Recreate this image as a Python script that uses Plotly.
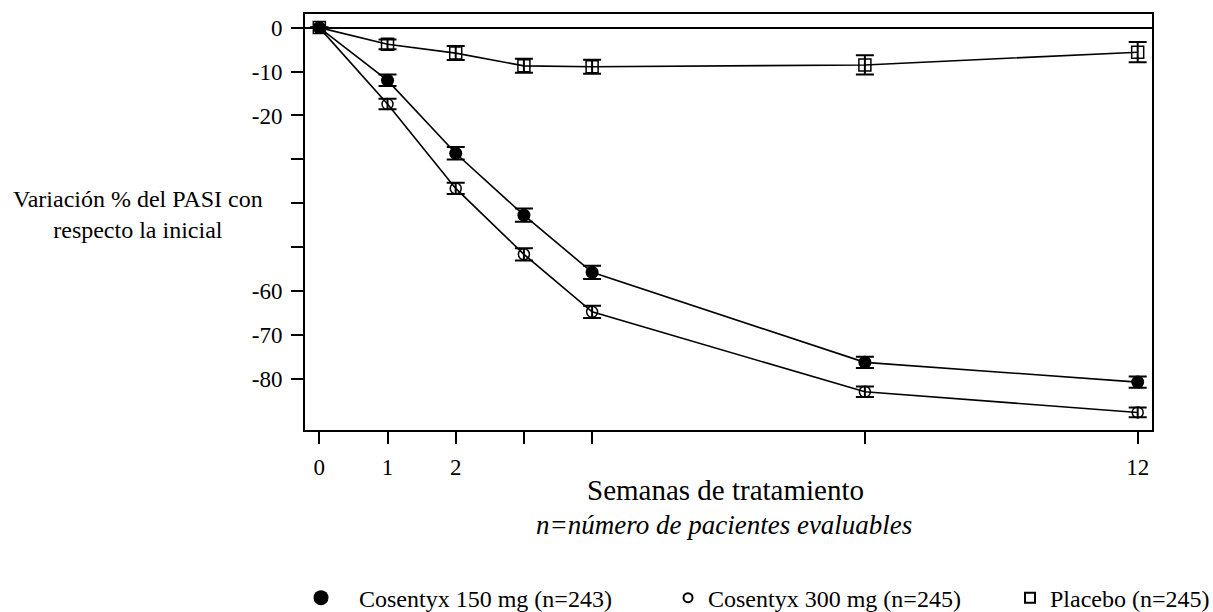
import plotly.graph_objects as go

# ---- data ----
weeks = [0, 1, 2, 3, 4, 8, 12]

cos150 = [0, -12.0, -28.6, -42.7, -55.7, -76.2, -80.7]
cos150_err = [0, 1.3, 1.4, 1.5, 1.5, 1.3, 1.3]

cos300 = [0, -17.4, -36.6, -51.6, -64.7, -82.9, -87.6]
cos300_err = [0, 1.2, 1.3, 1.4, 1.4, 1.2, 1.1]

placebo = [0, -3.8, -5.8, -8.7, -8.9, -8.5, -5.6]
placebo_err = [0, 1.1, 1.6, 1.6, 1.6, 2.2, 2.3]

series_names = ["Cosentyx 150 mg (n=243)", "Cosentyx 300 mg (n=245)", "Placebo (n=245)"]

x_tickvals = [0, 1, 2, 3, 4, 8, 12]
x_ticktext = ["0", "1", "2", "", "", "", "12"]
y_tickvals = [0, -10, -20, -30, -40, -50, -60, -70, -80]
y_ticktext = ["0", "-10", "-20", "", "", "", "-60", "-70", "-80"]

y_title = "Variación % del PASI con<br>respecto la inicial"
x_title = "Semanas de tratamiento"
x_subtitle = "<i>n=número de pacientes evaluables</i>"

FONT = "Liberation Serif"

fig = go.Figure()

def err(vals):
    return dict(type="data", array=vals, visible=True, color="black", thickness=2, width=9)

fig.add_trace(go.Scatter(
    x=weeks, y=placebo, name=series_names[2], mode="lines+markers", showlegend=False,
    line=dict(color="black", width=1.6),
    marker=dict(symbol="square-open", size=12, color="black", line=dict(width=1.5, color="black")),
    error_y=err(placebo_err),
))
fig.add_trace(go.Scatter(
    x=weeks, y=cos300, name=series_names[1], mode="lines+markers", showlegend=False,
    line=dict(color="black", width=1.6),
    marker=dict(symbol="circle-open", size=11, color="black", line=dict(width=1.5, color="black")),
    error_y=err(cos300_err),
))
fig.add_trace(go.Scatter(
    x=weeks, y=cos150, name=series_names[0], mode="lines+markers", showlegend=False,
    line=dict(color="black", width=1.6),
    marker=dict(symbol="circle", size=13, color="black"),
    error_y=err(cos150_err),
))

# legend entries (markers only, as in the reference legend)
NB = "\u00a0\u00a0\u00a0"
fig.add_trace(go.Scatter(
    x=[None], y=[None], name=NB + series_names[0], mode="markers",
    marker=dict(symbol="circle", size=15, color="black"), legendwidth=322,
))
fig.add_trace(go.Scatter(
    x=[None], y=[None], name=series_names[1], mode="markers",
    marker=dict(symbol="circle-open", size=9, color="black", line=dict(width=2, color="black")),
    legendwidth=297,
))
fig.add_trace(go.Scatter(
    x=[None], y=[None], name=series_names[2], mode="markers",
    marker=dict(symbol="square-open", size=10, color="black", line=dict(width=2, color="black")),
))

fig.update_layout(
    width=1213, height=612,
    margin=dict(l=305, r=61, t=14, b=182, autoexpand=False),
    paper_bgcolor="white", plot_bgcolor="white",
    font=dict(family=FONT, size=23, color="black"),
    showlegend=True,
    legend=dict(
        orientation="h", xref="paper", yref="paper",
        x=-0.0047, y=-0.404, xanchor="left", yanchor="middle",
        font=dict(family=FONT, size=24, color="black"),
        bgcolor="rgba(0,0,0,0)", borderwidth=0,
    ),
    xaxis=dict(
        range=[-0.21, 12.21], tickmode="array", tickvals=x_tickvals, ticktext=x_ticktext,
        showgrid=False, zeroline=False,
        showline=True, linecolor="black", linewidth=2, mirror=True,
        ticks="outside", ticklen=12, tickwidth=2, tickcolor="black",
        ticklabelstandoff=3,
        tickfont=dict(family=FONT, size=23, color="black"),
    ),
    yaxis=dict(
        range=[-91.6, 3.1], tickmode="array", tickvals=y_tickvals, ticktext=y_ticktext,
        showgrid=False, zeroline=True, zerolinecolor="black", zerolinewidth=2,
        showline=True, linecolor="black", linewidth=2, mirror=True,
        ticks="outside", ticklen=12, tickwidth=2, tickcolor="black",
        ticklabelstandoff=4,
        tickfont=dict(family=FONT, size=23, color="black"),
    ),
    annotations=[
        dict(text=y_title, xref="paper", yref="paper", x=-0.197, y=0.519,
             xanchor="center", yanchor="middle", showarrow=False, align="center",
             font=dict(family=FONT, size=24, color="black")),
        dict(text=x_title, xref="paper", yref="paper", x=0.497, y=-0.144,
             xanchor="center", yanchor="middle", showarrow=False,
             font=dict(family=FONT, size=29, color="black")),
        dict(text=x_subtitle, xref="paper", yref="paper", x=0.495, y=-0.228,
             xanchor="center", yanchor="middle", showarrow=False,
             font=dict(family=FONT, size=27, color="black")),
    ],
)

fig.write_html("out.html")
